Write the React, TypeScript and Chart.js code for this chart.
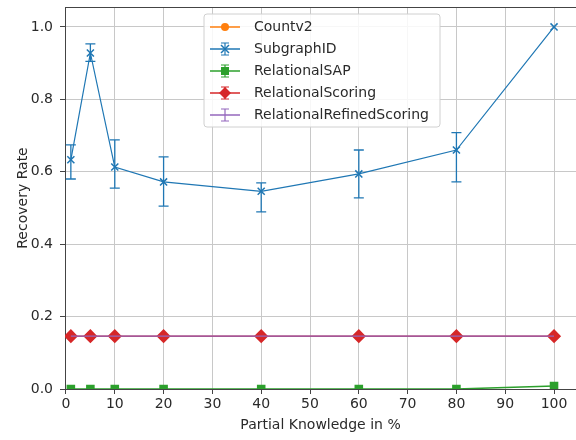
import React, { useEffect, useRef } from "react";
import { Chart, registerables } from "chart.js";

Chart.register(...registerables);

const xValues = [1, 5, 10, 20, 40, 60, 80, 100];
const countv2 = [null, null, null, null, null, null, null, null];
const subgraphID = [0.633, 0.928, 0.613, 0.572, 0.546, 0.594, 0.66, 1.0];
const subgraphErrHigh = [0.674, 0.953, 0.688, 0.641, 0.569, 0.66, 0.708, 1.0];
const subgraphErrLow = [0.58, 0.905, 0.555, 0.505, 0.489, 0.528, 0.572, 1.0];
const relationalSAP = [0.0, 0.0, 0.0, 0.0, 0.0, 0.0, 0.0, 0.008];
const relationalScoring = [0.146, 0.146, 0.146, 0.146, 0.146, 0.146, 0.146, 0.146];
const relationalRefinedScoring = [0.146, 0.146, 0.146, 0.146, 0.146, 0.146, 0.146, 0.146];
const xTicks = [0, 10, 20, 30, 40, 50, 60, 70, 80, 90, 100];
const yTicks = [0, 0.2, 0.4, 0.6, 0.8, 1.0];

const C_ORANGE = "#ff7f0e";
const C_BLUE = "#1f77b4";
const C_GREEN = "#2ca02c";
const C_RED = "#d62728";
const C_PURPLE = "#9467bd";
const FONT = "'DejaVu Sans', sans-serif";
const FS = 14;
const TEXT = "#2a2a2a";

const toPts = (ys: (number | null)[]) => xValues.map((x, i) => ({ x, y: ys[i] }));
const CLIP = { left: 0, top: 0, right: 0, bottom: 0 };

const errorBarPlugin = {
  id: "errorBars",
  afterDatasetsDraw(chart: any) {
    const { ctx, chartArea, scales } = chart;
    ctx.save();
    ctx.beginPath();
    ctx.rect(chartArea.left, chartArea.top, chartArea.right - chartArea.left, chartArea.bottom - chartArea.top);
    ctx.clip();
    ctx.strokeStyle = C_BLUE;
    ctx.lineWidth = 1.3;
    xValues.forEach((x, i) => {
      const px = scales.x.getPixelForValue(x);
      const top = scales.y.getPixelForValue(subgraphErrHigh[i]);
      const bot = scales.y.getPixelForValue(subgraphErrLow[i]);
      if (Math.abs(top - bot) < 0.5) return;
      ctx.beginPath();
      ctx.moveTo(px, top);
      ctx.lineTo(px, bot);
      ctx.moveTo(px - 5, top);
      ctx.lineTo(px + 5, top);
      ctx.moveTo(px - 5, bot);
      ctx.lineTo(px + 5, bot);
      ctx.stroke();
    });
    ctx.restore();
  },
};

const frameAndLegendPlugin = {
  id: "frameLegend",
  afterDraw(chart: any) {
    const { ctx, chartArea } = chart;
    ctx.save();
    ctx.strokeStyle = "#444";
    ctx.lineWidth = 1;
    ctx.beginPath();
    ctx.moveTo(chartArea.left, chartArea.top + 0.5);
    ctx.lineTo(chartArea.right, chartArea.top + 0.5);
    ctx.stroke();

    const bx = 204, by = 14, bw = 236, bh = 113, r = 3;
    ctx.beginPath();
    ctx.moveTo(bx + r, by);
    ctx.lineTo(bx + bw - r, by);
    ctx.quadraticCurveTo(bx + bw, by, bx + bw, by + r);
    ctx.lineTo(bx + bw, by + bh - r);
    ctx.quadraticCurveTo(bx + bw, by + bh, bx + bw - r, by + bh);
    ctx.lineTo(bx + r, by + bh);
    ctx.quadraticCurveTo(bx, by + bh, bx, by + bh - r);
    ctx.lineTo(bx, by + r);
    ctx.quadraticCurveTo(bx, by, bx + r, by);
    ctx.closePath();
    ctx.fillStyle = "rgba(255,255,255,0.85)";
    ctx.fill();
    ctx.strokeStyle = "#d0d0d0";
    ctx.stroke();

    const items = [
      { label: "Countv2", color: C_ORANGE, marker: "circle", err: false },
      { label: "SubgraphID", color: C_BLUE, marker: "x", err: true },
      { label: "RelationalSAP", color: C_GREEN, marker: "square", err: true },
      { label: "RelationalScoring", color: C_RED, marker: "diamond", err: true },
      { label: "RelationalRefinedScoring", color: C_PURPLE, marker: "none", err: true },
    ];
    const x0 = 210, x1 = 240, mx = 225;
    ctx.font = `${FS}px ${FONT}`;
    ctx.textBaseline = "middle";
    ctx.textAlign = "left";
    items.forEach((it, i) => {
      const y = 27 + i * 22;
      ctx.strokeStyle = it.color;
      ctx.fillStyle = it.color;
      ctx.lineWidth = 1.5;
      ctx.beginPath();
      ctx.moveTo(x0, y);
      ctx.lineTo(x1, y);
      ctx.stroke();
      if (it.err) {
        ctx.lineWidth = 1.2;
        ctx.beginPath();
        ctx.moveTo(mx, y - 6);
        ctx.lineTo(mx, y + 6);
        ctx.moveTo(mx - 4, y - 6);
        ctx.lineTo(mx + 4, y - 6);
        ctx.moveTo(mx - 4, y + 6);
        ctx.lineTo(mx + 4, y + 6);
        ctx.stroke();
      }
      if (it.marker === "circle") {
        ctx.beginPath();
        ctx.arc(mx, y, 4, 0, Math.PI * 2);
        ctx.fill();
      } else if (it.marker === "x") {
        ctx.lineWidth = 1.5;
        ctx.beginPath();
        ctx.moveTo(mx - 4, y - 4);
        ctx.lineTo(mx + 4, y + 4);
        ctx.moveTo(mx - 4, y + 4);
        ctx.lineTo(mx + 4, y - 4);
        ctx.stroke();
      } else if (it.marker === "square") {
        ctx.fillRect(mx - 4, y - 4, 8, 8);
      } else if (it.marker === "diamond") {
        ctx.beginPath();
        ctx.moveTo(mx, y - 6);
        ctx.lineTo(mx + 6, y);
        ctx.lineTo(mx, y + 6);
        ctx.lineTo(mx - 6, y);
        ctx.closePath();
        ctx.fill();
      }
      ctx.fillStyle = TEXT;
      ctx.fillText(it.label, 254, y);
    });
    ctx.restore();
  },
};

export default function App() {
  const canvasRef = useRef<HTMLCanvasElement | null>(null);

  useEffect(() => {
    if (!canvasRef.current) return;
    const tickFont = { family: FONT, size: FS };
    const chart = new Chart(canvasRef.current, {
      type: "line",
      data: {
        datasets: [
          {
            label: "Countv2",
            data: toPts(countv2),
            borderColor: C_ORANGE,
            backgroundColor: C_ORANGE,
            pointStyle: "circle",
            pointRadius: 4,
            borderWidth: 1.5,
            clip: CLIP,
            order: 5,
          },
          {
            label: "SubgraphID",
            data: toPts(subgraphID),
            borderColor: C_BLUE,
            backgroundColor: C_BLUE,
            pointStyle: "crossRot",
            pointRadius: 5,
            pointBorderWidth: 1.5,
            borderWidth: 1.2,
            clip: CLIP,
            order: 1,
          },
          {
            label: "RelationalSAP",
            data: toPts(relationalSAP),
            borderColor: C_GREEN,
            backgroundColor: C_GREEN,
            pointStyle: "rect",
            pointRadius: 5,
            borderWidth: 1.5,
            clip: CLIP,
            order: 2,
          },
          {
            label: "RelationalScoring",
            data: toPts(relationalScoring),
            borderColor: C_RED,
            backgroundColor: C_RED,
            pointStyle: "rectRot",
            pointRadius: 6,
            borderWidth: 1.5,
            clip: CLIP,
            order: 3,
          },
          {
            label: "RelationalRefinedScoring",
            data: toPts(relationalRefinedScoring),
            borderColor: C_PURPLE,
            backgroundColor: C_PURPLE,
            pointRadius: 0,
            borderWidth: 1.2,
            clip: CLIP,
            order: 0,
          },
        ],
      },
      options: {
        animation: false,
        responsive: false,
        layout: { autoPadding: false, padding: { left: 10, top: 7, right: 0, bottom: 0 } },
        plugins: {
          legend: { display: false },
          tooltip: { enabled: false },
        },
        scales: {
          x: {
            type: "linear",
            min: -0.2,
            max: 104.5,
            afterBuildTicks: (s: any) => {
              s.ticks = xTicks.map((v) => ({ value: v }));
            },
            afterFit: (s: any) => {
              s.height = 51;
              s.paddingLeft = 0;
              s.paddingRight = 0;
            },
            grid: { color: "#c8c8c8", tickColor: "#444", tickLength: 5, lineWidth: 1 },
            border: { color: "#444", width: 1 },
            ticks: { font: tickFont, color: TEXT, padding: 2, maxRotation: 0, autoSkip: false },
            title: {
              display: true,
              text: "Partial Knowledge in %",
              font: tickFont,
              color: TEXT,
              padding: { top: 0, bottom: 6 },
            },
          },
          y: {
            type: "linear",
            min: 0,
            max: 1.055,
            afterBuildTicks: (s: any) => {
              s.ticks = yTicks.map((v) => ({ value: v }));
            },
            afterFit: (s: any) => {
              s.width = 55;
              s.paddingTop = 0;
              s.paddingBottom = 0;
            },
            grid: { color: "#c8c8c8", tickColor: "#444", tickLength: 5, lineWidth: 1 },
            border: { color: "#444", width: 1 },
            ticks: {
              font: tickFont,
              color: TEXT,
              padding: 7,
              callback: (v: any) => Number(v).toFixed(1),
            },
            title: {
              display: true,
              text: "Recovery Rate",
              font: tickFont,
              color: TEXT,
              padding: { top: 5, bottom: 0 },
            },
          },
        },
      },
      plugins: [errorBarPlugin, frameAndLegendPlugin],
    } as any);
    return () => chart.destroy();
  }, []);

  return (
    <div style={{ position: "absolute", left: 0, top: 0, width: 576, height: 440 }}>
      <canvas ref={canvasRef} width={576} height={440} style={{ display: "block" }} />
    </div>
  );
}
